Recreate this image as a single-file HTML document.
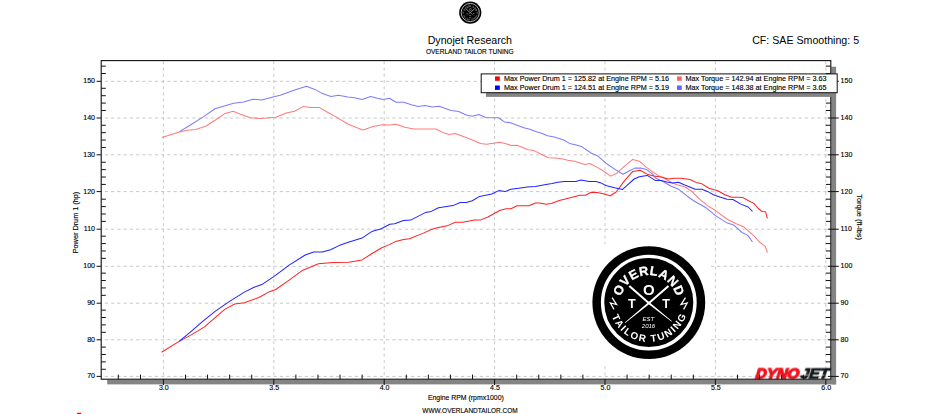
<!DOCTYPE html>
<html lang="en"><head><meta charset="utf-8"><title>Dynojet Research - Overland Tailor Tuning</title>
<style>html,body{margin:0;padding:0;background:#fff}body{width:940px;height:414px;overflow:hidden}svg{display:block}text{font-family:"Liberation Sans",sans-serif;fill:#000}.s{stroke:#000;stroke-width:.14}</style></head><body>
<svg width="940" height="414" viewBox="0 0 940 414">
<defs><filter id="nf" x="-5%" y="-5%" width="110%" height="110%" color-interpolation-filters="sRGB"><feOffset dx="0" dy="0"/></filter></defs>
<rect width="940" height="414" fill="#fff"/>
<g stroke="#c8c8c8" stroke-width="1" fill="none">
<line x1="104.8" y1="376.40" x2="830.8" y2="376.40" stroke-dasharray="3.2 3.05"/>
<line x1="104.8" y1="339.80" x2="830.8" y2="339.80" stroke-dasharray="3.2 3.05"/>
<line x1="104.8" y1="303.20" x2="830.8" y2="303.20" stroke-dasharray="3.2 3.05"/>
<line x1="104.8" y1="266.30" x2="830.8" y2="266.30" stroke-dasharray="3.2 3.05"/>
<line x1="104.8" y1="229.20" x2="830.8" y2="229.20" stroke-dasharray="3.2 3.05"/>
<line x1="104.8" y1="191.60" x2="830.8" y2="191.60" stroke-dasharray="3.2 3.05"/>
<line x1="104.8" y1="154.80" x2="830.8" y2="154.80" stroke-dasharray="3.2 3.05"/>
<line x1="104.8" y1="118.00" x2="830.8" y2="118.00" stroke-dasharray="3.2 3.05"/>
<line x1="104.8" y1="81.30" x2="830.8" y2="81.30" stroke-dasharray="3.2 3.05"/>
<line x1="163.40" y1="61.0" x2="163.40" y2="379.2" stroke-dasharray="2.9 3.32" stroke-dashoffset="-0.4"/>
<line x1="273.80" y1="61.0" x2="273.80" y2="379.2" stroke-dasharray="2.9 3.32" stroke-dashoffset="-0.4"/>
<line x1="384.20" y1="61.0" x2="384.20" y2="379.2" stroke-dasharray="2.9 3.32" stroke-dashoffset="-0.4"/>
<line x1="494.60" y1="61.0" x2="494.60" y2="379.2" stroke-dasharray="2.9 3.32" stroke-dashoffset="-0.4"/>
<line x1="605.00" y1="61.0" x2="605.00" y2="379.2" stroke-dasharray="2.9 3.32" stroke-dashoffset="-0.4"/>
<line x1="715.40" y1="61.0" x2="715.40" y2="379.2" stroke-dasharray="2.9 3.32" stroke-dashoffset="-0.4"/>
<line x1="825.80" y1="61.0" x2="825.80" y2="379.2" stroke-dasharray="2.9 3.32" stroke-dashoffset="-0.4"/>
</g>
<g transform="translate(648.8,302.6) scale(1.0)" filter="url(#nf)">
<rect x="-58.3" y="-58.2" width="118.6" height="120.2" fill="#fff"/>
<circle r="56.4" fill="#000"/>
<circle r="46.2" fill="none" stroke="#fff" stroke-width="3.4"/>
<path id="arcTb" d="M-27.62,-6.04 A28.5,28.5 0 0 1 27.54,-6.33" fill="none"/>
<path id="arcBb" d="M-36.93,13.73 A39.4,39.4 0 0 0 37.02,13.48" fill="none"/>
<text font-size="12.8" font-weight="bold" style="fill:#fff;stroke:#fff;stroke-width:.3" textLength="75.0" lengthAdjust="spacing"><textPath href="#arcTb" textLength="75.0" lengthAdjust="spacing">OVERLAND</textPath></text>
<text font-size="9.9" font-weight="bold" style="fill:#fff" textLength="96.0" lengthAdjust="spacing"><textPath href="#arcBb" textLength="96.0" lengthAdjust="spacing">TAILOR TUNING</textPath></text>
<g fill="#fff" stroke="none">
<polygon points="-20.2,-15.9 -18.8,-17.4 0.9,-0.2 23.0,18.3 22.6,18.8 -0.7,1.2"/>
<polygon points="20.4,-15.9 19.0,-17.4 -0.7,-0.2 -24.0,20.0 -23.6,20.5 0.9,1.2"/>
</g>
<g stroke="#fff" fill="none" stroke-width="1.25" stroke-linejoin="miter">
<polyline points="36.7,-4.9 32.2,2.0 38.4,0.4 34.8,6.8"/>
<polyline points="-36.7,-4.9 -32.2,2.0 -38.4,0.4 -34.8,6.8"/>
</g>
<text x="0.1" y="-7.4" font-size="15" font-weight="bold" text-anchor="middle" style="fill:#fff">O</text>
<text x="-16.9" y="5.3" font-size="12.6" font-weight="bold" text-anchor="middle" style="fill:#fff">T</text>
<text x="17.3" y="5.3" font-size="12.6" font-weight="bold" text-anchor="middle" style="fill:#fff">T</text>
<text x="-0.6" y="18.9" font-size="6" font-style="italic" text-anchor="middle" style="fill:#fff">EST</text>
<text x="-0.3" y="25.5" font-size="6" font-style="italic" text-anchor="middle" style="fill:#fff">2016</text>
</g>
<g transform="translate(755.2,378.5) skewX(-7)" filter="url(#nf)">
<text x="0" y="0" font-size="14.2" font-weight="bold" font-style="italic" textLength="43.6" lengthAdjust="spacingAndGlyphs" style="fill:#f0141e;stroke:#f0141e;stroke-width:1.35">DYNO</text>
<text x="44.9" y="0" font-size="14.2" font-weight="bold" font-style="italic" textLength="28.4" lengthAdjust="spacingAndGlyphs" style="fill:#14161a;stroke:#14161a;stroke-width:1.05">JET</text>
<path d="M44.5,-3.6h8 M45.2,-5.9h6.2 M62.5,-3.5h6" stroke="#fff" stroke-width=".7" fill="none"/>
</g>
<polyline points="161.8,137.5 179.5,132.0 187.1,130.3 195.6,129.4 205.7,126.2 215.8,119.8 225.1,113.4 233.1,111.3 241.2,114.4 250.5,117.8 259.8,118.6 266.5,118.1 276.0,117.3 286.1,113.0 294.6,111.3 303.0,106.6 310.6,107.4 319.1,107.4 327.5,112.2 336.0,116.9 347.8,124.0 356.3,127.4 363.0,129.9 373.2,126.5 379.9,125.2 382.6,124.8 389.4,125.1 396.1,124.3 404.6,127.3 413.9,129.0 425.7,129.0 435.8,129.0 442.6,132.4 449.4,134.6 455.3,133.6 464.6,137.0 473.0,140.3 480.6,143.4 486.5,144.2 495.0,143.0 499.4,142.2 505.3,143.4 511.2,145.6 517.1,145.2 528.1,149.8 534.0,150.6 540.8,154.0 548.4,157.7 556.0,157.9 562.7,159.1 567.8,160.3 574.6,161.3 584.7,164.5 589.8,163.5 598.7,168.1 604.5,171.7 610.7,176.1 616.8,173.2 624.8,165.9 632.8,159.4 640.0,161.6 646.5,167.4 652.3,171.7 658.1,175.4 665.4,179.0 672.6,183.0 677.0,184.8 682.8,186.2 685.8,187.5 692.3,191.8 699.6,199.1 707.5,205.6 715.9,210.8 727.5,219.5 736.2,223.8 743.5,226.7 749.3,231.8 754.3,236.2 759.4,242.0 765.2,246.3 767.4,252.5" fill="none" stroke="#ff7c7c" stroke-width="1.05" stroke-linejoin="round"/>
<polyline points="179.5,131.6 188.8,126.0 204.0,116.4 215.0,108.8 224.3,105.9 233.6,103.2 243.7,102.0 253.0,99.2 261.5,100.0 275.0,96.5 280.2,95.3 295.4,89.7 306.4,86.3 314.9,89.4 322.5,93.6 330.9,96.5 338.5,95.3 347.8,97.0 354.6,97.8 362.2,99.5 370.6,96.6 377.4,98.3 383.5,99.4 389.4,98.3 396.1,102.3 403.7,102.3 411.3,104.8 418.1,106.5 424.9,105.4 432.5,107.0 439.2,106.2 451.1,110.4 458.7,111.6 466.3,115.0 472.2,116.3 478.9,114.6 485.7,117.5 498.5,117.7 504.4,121.9 510.4,122.7 523.9,127.8 529.8,129.2 535.7,131.5 541.6,133.2 547.5,135.8 554.3,137.1 563.6,140.0 569.5,143.4 575.4,144.7 581.3,146.4 591.5,153.2 597.4,155.7 606.7,163.8 615.4,169.6 623.0,174.3 629.1,171.0 634.9,168.1 640.7,168.1 646.5,169.6 652.3,173.9 655.9,178.3 662.5,181.2 671.2,186.2 678.4,189.1 687.2,196.2 694.5,201.2 706.1,207.8 715.9,215.9 726.1,222.4 734.1,225.3 742.0,232.5 747.8,235.4 752.5,242.0" fill="none" stroke="#7c7cff" stroke-width="1.05" stroke-linejoin="round"/>
<polyline points="161.5,352.3 179.2,341.4 191.2,334.9 204.5,326.9 215.4,317.3 225.1,309.1 234.7,304.0 244.4,302.8 258.9,297.5 268.6,292.1 275.8,289.5 289.5,279.9 302.8,270.2 318.5,263.7 333.0,262.5 348.7,262.3 362.0,259.9 371.7,253.8 381.3,248.0 388.6,244.9 395.8,241.4 403.5,239.4 409.5,238.7 422.8,233.4 431.2,229.5 437.3,227.8 448.2,225.4 455.4,222.3 462.7,222.3 474.7,219.9 480.8,219.9 488.0,217.0 500.1,210.2 506.2,208.7 511.0,208.7 517.2,205.7 528.8,205.7 535.4,203.0 539.7,203.0 546.2,204.2 551.3,203.5 559.3,200.6 569.4,198.0 579.6,195.2 585.4,195.2 591.2,192.2 597.0,192.6 602.3,193.5 610.3,195.7 616.1,192.0 624.8,180.4 632.8,171.4 640.0,170.3 648.0,174.6 653.8,176.1 662.5,177.2 668.3,179.0 674.1,178.3 681.3,178.3 690.1,179.5 695.9,182.4 701.0,183.4 709.0,188.2 717.7,190.8 724.9,194.7 731.4,197.2 737.2,197.2 743.0,197.6 748.1,200.5 753.9,203.4 758.3,208.5 761.9,211.4 765.5,211.7 767.4,218.3" fill="none" stroke="#ff2222" stroke-width="1.02" stroke-linejoin="round"/>
<polyline points="179.2,341.4 191.2,331.3 203.3,320.9 215.4,311.2 229.9,301.1 244.4,292.1 254.1,287.3 262.5,284.2 273.4,276.9 289.5,264.9 305.2,255.0 313.7,252.1 322.1,252.1 330.6,249.7 339.0,245.6 347.5,242.5 362.0,238.1 371.7,231.6 381.3,228.7 389.8,224.3 394.6,223.8 403.5,220.6 410.7,220.1 425.2,212.6 431.2,211.4 438.5,207.8 453.0,205.6 460.2,202.5 466.3,202.5 472.3,200.8 479.6,196.4 491.7,194.0 498.9,190.6 505.0,191.6 511.0,189.2 518.7,188.3 527.4,187.1 535.4,186.5 543.3,184.9 552.0,183.6 557.8,182.2 564.3,181.4 575.9,181.4 581.0,179.9 589.0,181.4 596.2,181.4 600.9,182.9 605.9,185.5 614.6,187.7 622.6,189.4 628.4,184.1 634.2,179.0 639.3,176.8 647.2,175.4 655.2,180.4 661.0,180.4 666.8,181.9 672.6,183.0 678.4,182.2 684.2,184.8 687.2,186.0 695.2,189.3 701.7,189.3 707.5,191.4 713.3,194.7 720.6,197.2 727.1,199.3 732.9,199.5 740.9,204.1 748.1,207.0 752.5,211.4" fill="none" stroke="#2222ff" stroke-width="1.02" stroke-linejoin="round"/>
<rect x="107.2" y="379.7" width="728.9" height="4.7" fill="#848484"/>
<rect x="831.2" y="66.7" width="4.9" height="317.7" fill="#848484"/>
<rect x="101.2" y="60.6" width="729.6" height="318.6" fill="none" stroke="#111" stroke-width="1.1"/>
<g stroke="#111" stroke-width="1">
<line x1="96.6" y1="376.40" x2="101.2" y2="376.40"/>
<line x1="827.8" y1="376.40" x2="838.8" y2="376.40"/>
<line x1="101.2" y1="369.27" x2="105.8" y2="369.27"/>
<line x1="825.8" y1="369.27" x2="830.8" y2="369.27"/>
<line x1="101.2" y1="361.87" x2="105.8" y2="361.87"/>
<line x1="825.8" y1="361.87" x2="830.8" y2="361.87"/>
<line x1="101.2" y1="354.48" x2="105.8" y2="354.48"/>
<line x1="825.8" y1="354.48" x2="830.8" y2="354.48"/>
<line x1="101.2" y1="347.08" x2="105.8" y2="347.08"/>
<line x1="825.8" y1="347.08" x2="830.8" y2="347.08"/>
<line x1="96.6" y1="339.80" x2="101.2" y2="339.80"/>
<line x1="827.8" y1="339.80" x2="838.8" y2="339.80"/>
<line x1="101.2" y1="332.30" x2="105.8" y2="332.30"/>
<line x1="825.8" y1="332.30" x2="830.8" y2="332.30"/>
<line x1="101.2" y1="324.90" x2="105.8" y2="324.90"/>
<line x1="825.8" y1="324.90" x2="830.8" y2="324.90"/>
<line x1="101.2" y1="317.51" x2="105.8" y2="317.51"/>
<line x1="825.8" y1="317.51" x2="830.8" y2="317.51"/>
<line x1="101.2" y1="310.11" x2="105.8" y2="310.11"/>
<line x1="825.8" y1="310.11" x2="830.8" y2="310.11"/>
<line x1="96.6" y1="303.20" x2="101.2" y2="303.20"/>
<line x1="827.8" y1="303.20" x2="838.8" y2="303.20"/>
<line x1="101.2" y1="295.33" x2="105.8" y2="295.33"/>
<line x1="825.8" y1="295.33" x2="830.8" y2="295.33"/>
<line x1="101.2" y1="287.93" x2="105.8" y2="287.93"/>
<line x1="825.8" y1="287.93" x2="830.8" y2="287.93"/>
<line x1="101.2" y1="280.54" x2="105.8" y2="280.54"/>
<line x1="825.8" y1="280.54" x2="830.8" y2="280.54"/>
<line x1="101.2" y1="273.14" x2="105.8" y2="273.14"/>
<line x1="825.8" y1="273.14" x2="830.8" y2="273.14"/>
<line x1="96.6" y1="266.30" x2="101.2" y2="266.30"/>
<line x1="827.8" y1="266.30" x2="838.8" y2="266.30"/>
<line x1="101.2" y1="258.36" x2="105.8" y2="258.36"/>
<line x1="825.8" y1="258.36" x2="830.8" y2="258.36"/>
<line x1="101.2" y1="250.96" x2="105.8" y2="250.96"/>
<line x1="825.8" y1="250.96" x2="830.8" y2="250.96"/>
<line x1="101.2" y1="243.57" x2="105.8" y2="243.57"/>
<line x1="825.8" y1="243.57" x2="830.8" y2="243.57"/>
<line x1="101.2" y1="236.17" x2="105.8" y2="236.17"/>
<line x1="825.8" y1="236.17" x2="830.8" y2="236.17"/>
<line x1="96.6" y1="229.20" x2="101.2" y2="229.20"/>
<line x1="827.8" y1="229.20" x2="838.8" y2="229.20"/>
<line x1="101.2" y1="221.39" x2="105.8" y2="221.39"/>
<line x1="825.8" y1="221.39" x2="830.8" y2="221.39"/>
<line x1="101.2" y1="213.99" x2="105.8" y2="213.99"/>
<line x1="825.8" y1="213.99" x2="830.8" y2="213.99"/>
<line x1="101.2" y1="206.60" x2="105.8" y2="206.60"/>
<line x1="825.8" y1="206.60" x2="830.8" y2="206.60"/>
<line x1="101.2" y1="199.20" x2="105.8" y2="199.20"/>
<line x1="825.8" y1="199.20" x2="830.8" y2="199.20"/>
<line x1="96.6" y1="191.60" x2="101.2" y2="191.60"/>
<line x1="827.8" y1="191.60" x2="838.8" y2="191.60"/>
<line x1="101.2" y1="184.42" x2="105.8" y2="184.42"/>
<line x1="825.8" y1="184.42" x2="830.8" y2="184.42"/>
<line x1="101.2" y1="177.02" x2="105.8" y2="177.02"/>
<line x1="825.8" y1="177.02" x2="830.8" y2="177.02"/>
<line x1="101.2" y1="169.63" x2="105.8" y2="169.63"/>
<line x1="825.8" y1="169.63" x2="830.8" y2="169.63"/>
<line x1="101.2" y1="162.23" x2="105.8" y2="162.23"/>
<line x1="825.8" y1="162.23" x2="830.8" y2="162.23"/>
<line x1="96.6" y1="154.80" x2="101.2" y2="154.80"/>
<line x1="827.8" y1="154.80" x2="838.8" y2="154.80"/>
<line x1="101.2" y1="147.45" x2="105.8" y2="147.45"/>
<line x1="825.8" y1="147.45" x2="830.8" y2="147.45"/>
<line x1="101.2" y1="140.05" x2="105.8" y2="140.05"/>
<line x1="825.8" y1="140.05" x2="830.8" y2="140.05"/>
<line x1="101.2" y1="132.66" x2="105.8" y2="132.66"/>
<line x1="825.8" y1="132.66" x2="830.8" y2="132.66"/>
<line x1="101.2" y1="125.26" x2="105.8" y2="125.26"/>
<line x1="825.8" y1="125.26" x2="830.8" y2="125.26"/>
<line x1="96.6" y1="118.00" x2="101.2" y2="118.00"/>
<line x1="827.8" y1="118.00" x2="838.8" y2="118.00"/>
<line x1="101.2" y1="110.48" x2="105.8" y2="110.48"/>
<line x1="825.8" y1="110.48" x2="830.8" y2="110.48"/>
<line x1="101.2" y1="103.08" x2="105.8" y2="103.08"/>
<line x1="825.8" y1="103.08" x2="830.8" y2="103.08"/>
<line x1="101.2" y1="95.69" x2="105.8" y2="95.69"/>
<line x1="825.8" y1="95.69" x2="830.8" y2="95.69"/>
<line x1="101.2" y1="88.29" x2="105.8" y2="88.29"/>
<line x1="825.8" y1="88.29" x2="830.8" y2="88.29"/>
<line x1="96.6" y1="81.30" x2="101.2" y2="81.30"/>
<line x1="827.8" y1="81.30" x2="838.8" y2="81.30"/>
<line x1="101.2" y1="73.51" x2="105.8" y2="73.51"/>
<line x1="825.8" y1="73.51" x2="830.8" y2="73.51"/>
<line x1="101.2" y1="66.11" x2="105.8" y2="66.11"/>
<line x1="825.8" y1="66.11" x2="830.8" y2="66.11"/>
<line x1="118.30" y1="374.6" x2="118.30" y2="379.2"/>
<line x1="140.50" y1="374.6" x2="140.50" y2="379.2"/>
<line x1="163.40" y1="379.2" x2="163.40" y2="385.0"/>
<line x1="185.48" y1="374.6" x2="185.48" y2="379.2"/>
<line x1="207.56" y1="374.6" x2="207.56" y2="379.2"/>
<line x1="229.64" y1="374.6" x2="229.64" y2="379.2"/>
<line x1="251.72" y1="374.6" x2="251.72" y2="379.2"/>
<line x1="273.80" y1="379.2" x2="273.80" y2="385.0"/>
<line x1="295.88" y1="374.6" x2="295.88" y2="379.2"/>
<line x1="317.96" y1="374.6" x2="317.96" y2="379.2"/>
<line x1="340.04" y1="374.6" x2="340.04" y2="379.2"/>
<line x1="362.12" y1="374.6" x2="362.12" y2="379.2"/>
<line x1="384.20" y1="379.2" x2="384.20" y2="385.0"/>
<line x1="406.28" y1="374.6" x2="406.28" y2="379.2"/>
<line x1="428.36" y1="374.6" x2="428.36" y2="379.2"/>
<line x1="450.44" y1="374.6" x2="450.44" y2="379.2"/>
<line x1="472.52" y1="374.6" x2="472.52" y2="379.2"/>
<line x1="494.60" y1="379.2" x2="494.60" y2="385.0"/>
<line x1="516.68" y1="374.6" x2="516.68" y2="379.2"/>
<line x1="538.76" y1="374.6" x2="538.76" y2="379.2"/>
<line x1="560.84" y1="374.6" x2="560.84" y2="379.2"/>
<line x1="582.92" y1="374.6" x2="582.92" y2="379.2"/>
<line x1="605.00" y1="379.2" x2="605.00" y2="385.0"/>
<line x1="627.08" y1="374.6" x2="627.08" y2="379.2"/>
<line x1="649.16" y1="374.6" x2="649.16" y2="379.2"/>
<line x1="671.24" y1="374.6" x2="671.24" y2="379.2"/>
<line x1="693.32" y1="374.6" x2="693.32" y2="379.2"/>
<line x1="715.40" y1="379.2" x2="715.40" y2="385.0"/>
<line x1="737.48" y1="374.6" x2="737.48" y2="379.2"/>
<line x1="759.56" y1="374.6" x2="759.56" y2="379.2"/>
<line x1="781.64" y1="374.6" x2="781.64" y2="379.2"/>
<line x1="803.72" y1="374.6" x2="803.72" y2="379.2"/>
<line x1="825.80" y1="379.2" x2="825.80" y2="385.0"/>
</g>
<text x="95.0" y="378.3" class="s" font-size="7.05" text-anchor="end">70</text>
<text x="840.6" y="378.3" class="s" font-size="7.05">70</text>
<text x="95.0" y="341.7" class="s" font-size="7.05" text-anchor="end">80</text>
<text x="840.6" y="341.7" class="s" font-size="7.05">80</text>
<text x="95.0" y="305.1" class="s" font-size="7.05" text-anchor="end">90</text>
<text x="840.6" y="305.1" class="s" font-size="7.05">90</text>
<text x="95.0" y="268.2" class="s" font-size="7.05" text-anchor="end">100</text>
<text x="840.6" y="268.2" class="s" font-size="7.05">100</text>
<text x="95.0" y="231.1" class="s" font-size="7.05" text-anchor="end">110</text>
<text x="840.6" y="231.1" class="s" font-size="7.05">110</text>
<text x="95.0" y="193.5" class="s" font-size="7.05" text-anchor="end">120</text>
<text x="840.6" y="193.5" class="s" font-size="7.05">120</text>
<text x="95.0" y="156.7" class="s" font-size="7.05" text-anchor="end">130</text>
<text x="840.6" y="156.7" class="s" font-size="7.05">130</text>
<text x="95.0" y="119.9" class="s" font-size="7.05" text-anchor="end">140</text>
<text x="840.6" y="119.9" class="s" font-size="7.05">140</text>
<text x="95.0" y="83.2" class="s" font-size="7.05" text-anchor="end">150</text>
<text x="840.6" y="83.2" class="s" font-size="7.05">150</text>
<text x="163.8" y="390.0" class="s" font-size="7.05" text-anchor="middle">3.0</text>
<text x="274.2" y="390.0" class="s" font-size="7.05" text-anchor="middle">3.5</text>
<text x="384.6" y="390.0" class="s" font-size="7.05" text-anchor="middle">4.0</text>
<text x="495.0" y="390.0" class="s" font-size="7.05" text-anchor="middle">4.5</text>
<text x="605.4" y="390.0" class="s" font-size="7.05" text-anchor="middle">5.0</text>
<text x="715.8" y="390.0" class="s" font-size="7.05" text-anchor="middle">5.5</text>
<text x="826.2" y="390.0" class="s" font-size="7.05" text-anchor="middle">6.0</text>
<rect x="486" y="79" width="350.1" height="17.9" fill="#848484"/>
<rect x="481.2" y="73.9" width="356" height="18.8" fill="#fff" stroke="#111" stroke-width="1"/>
<rect x="495" y="76.4" width="4.8" height="4.4" fill="#ff0000"/>
<rect x="495" y="85.5" width="4.8" height="4.4" fill="#0000ff"/>
<rect x="677" y="76.4" width="4.8" height="4.4" fill="#ff6464"/>
<rect x="677" y="85.5" width="4.8" height="4.4" fill="#6464ff"/>
<text x="504" y="81" class="s" font-size="7.7" textLength="165" lengthAdjust="spacingAndGlyphs">Max Power Drum 1 = 125.82 at Engine RPM = 5.16</text>
<text x="504" y="90.2" class="s" font-size="7.7" textLength="165" lengthAdjust="spacingAndGlyphs">Max Power Drum 1 = 124.51 at Engine RPM = 5.19</text>
<text x="685.5" y="81" class="s" font-size="7.7" textLength="141" lengthAdjust="spacingAndGlyphs">Max Torque = 142.94 at Engine RPM = 3.63</text>
<text x="685.5" y="90.2" class="s" font-size="7.7" textLength="141" lengthAdjust="spacingAndGlyphs">Max Torque = 148.38 at Engine RPM = 3.65</text>
<g transform="translate(470.25,12.55) scale(0.197)" filter="url(#nf)">
<circle r="56.4" fill="#000"/>
<circle r="46.2" fill="none" stroke="#d8d8d8" stroke-width="4.2"/>
<path id="arcTs" d="M-27.62,-6.04 A28.5,28.5 0 0 1 27.54,-6.33" fill="none"/>
<path id="arcBs" d="M-36.93,13.73 A39.4,39.4 0 0 0 37.02,13.48" fill="none"/>
<text font-size="12.8" font-weight="bold" style="fill:#aaa" textLength="75.0" lengthAdjust="spacing"><textPath href="#arcTs" textLength="75.0" lengthAdjust="spacing">OVERLAND</textPath></text>
<text font-size="9.9" font-weight="bold" style="fill:#aaa" textLength="96.0" lengthAdjust="spacing"><textPath href="#arcBs" textLength="96.0" lengthAdjust="spacing">TAILOR TUNING</textPath></text>
<g fill="#ccc" stroke="none">
<polygon points="-20.2,-15.9 -18.8,-17.4 0.9,-0.2 23.0,18.3 22.6,18.8 -0.7,1.2"/>
<polygon points="20.4,-15.9 19.0,-17.4 -0.7,-0.2 -24.0,20.0 -23.6,20.5 0.9,1.2"/>
</g>
<g stroke="#fff" fill="none" stroke-width="1.25" stroke-linejoin="miter">
<polyline points="36.7,-4.9 32.2,2.0 38.4,0.4 34.8,6.8"/>
<polyline points="-36.7,-4.9 -32.2,2.0 -38.4,0.4 -34.8,6.8"/>
</g>
<text x="0.1" y="-7.4" font-size="15" font-weight="bold" text-anchor="middle" style="fill:#aaa">O</text>
<text x="-16.9" y="5.3" font-size="12.6" font-weight="bold" text-anchor="middle" style="fill:#aaa">T</text>
<text x="17.3" y="5.3" font-size="12.6" font-weight="bold" text-anchor="middle" style="fill:#aaa">T</text>
<text x="-0.6" y="18.9" font-size="6" font-style="italic" text-anchor="middle" style="fill:#aaa">EST</text>
<text x="-0.3" y="25.5" font-size="6" font-style="italic" text-anchor="middle" style="fill:#aaa">2016</text>
</g>
<text x="427.7" y="43.7" font-size="11.2" textLength="84.3" lengthAdjust="spacingAndGlyphs">Dynojet Research</text>
<text x="425.9" y="54" class="s" font-size="7.8" textLength="87.8" lengthAdjust="spacingAndGlyphs">OVERLAND TAILOR TUNING</text>
<text x="752.2" y="43.9" font-size="11.2" textLength="106.9" lengthAdjust="spacingAndGlyphs">CF: SAE Smoothing: 5</text>
<text x="427.9" y="399.8" class="s" font-size="7.6" textLength="75.9" lengthAdjust="spacingAndGlyphs">Engine RPM (rpmx1000)</text>
<text x="422.3" y="413.1" class="s" font-size="7.8" textLength="95.4" lengthAdjust="spacingAndGlyphs">WWW.OVERLANDTAILOR.COM</text>
<text transform="translate(78.3,222.5) rotate(-90)" class="s" font-size="7.6" text-anchor="middle" textLength="61.6" lengthAdjust="spacingAndGlyphs">Power Drum 1 (hp)</text>
<text transform="translate(857.2,217.1) rotate(90)" class="s" font-size="7.6" text-anchor="middle" textLength="45.8" lengthAdjust="spacingAndGlyphs">Torque (ft-lbs)</text>
<rect x="77" y="412.8" width="4.1" height="1.3" fill="#ff0000"/>
</svg></body></html>
